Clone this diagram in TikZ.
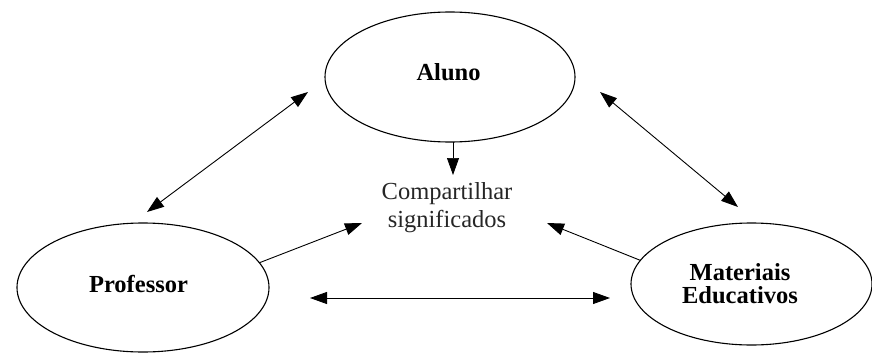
\documentclass[tikz,border=0pt]{standalone}
\usepackage{fontspec}
\setmainfont{Liberation Serif}
\usetikzlibrary{shapes.geometric,arrows.meta}
\tikzset{
  oval/.style={draw, ellipse, line width=1.1pt, inner sep=0pt, outer sep=0pt},
  nm/.style={font=\fontsize{24.5}{23}\selectfont\bfseries, inner sep=0pt},
  plain/.style={font=\fontsize{24.5}{28}\selectfont, inner sep=0pt, text=black!85},
  conn/.style={line width=0.9pt, -{Triangle[length=17pt,width=12pt]}},
  biconn/.style={line width=0.9pt, {Triangle[length=17pt,width=12pt]}-{Triangle[length=17pt,width=12pt]}}
}
\begin{document}
\begin{tikzpicture}[x=1pt,y=-1pt]
\useasboundingbox (0,0) rectangle (872,353);
% ellipses
\node[oval, minimum width=250pt, minimum height=130pt] (aluno) at (450,77) {};
\node[oval, minimum width=252pt, minimum height=129pt] (prof) at (143,287.5) {};
\node[oval, minimum width=241pt, minimum height=122pt] (mat) at (751.5,284) {};
% labels
\node[nm, anchor=base] (alunot) at (448.5,80) {Aluno};
\node[nm, anchor=base] (proft) at (138.5,292) {Professor};
\node[nm, align=center] (matt) at (740,283.5) {Materiais\\Educativos};
\node[plain, align=center] (comp) at (447,208) {Compartilhar\\significados};
% free ends
\coordinate (apU) at (308,92);
\coordinate (apD) at (147,212);
\coordinate (amU) at (600,92);
\coordinate (amD) at (738,207);
\coordinate (dn) at (453,175);
\coordinate (pc) at (362,223);
\coordinate (mc) at (547,223);
\coordinate (pmL) at (310,298);
\coordinate (pmR) at (610,298);
% connectors
\draw[biconn] (apD) -- (apU);
\draw[biconn] (amU) -- (amD);
\draw[conn, line width=0.7pt] (aluno.south -| dn) -- (dn);
\draw[conn] (prof.12) -- (pc);
\draw[conn] (mat.168.6) -- (mc);
\draw[biconn] (pmL) -- (pmR);
\end{tikzpicture}
\end{document}
